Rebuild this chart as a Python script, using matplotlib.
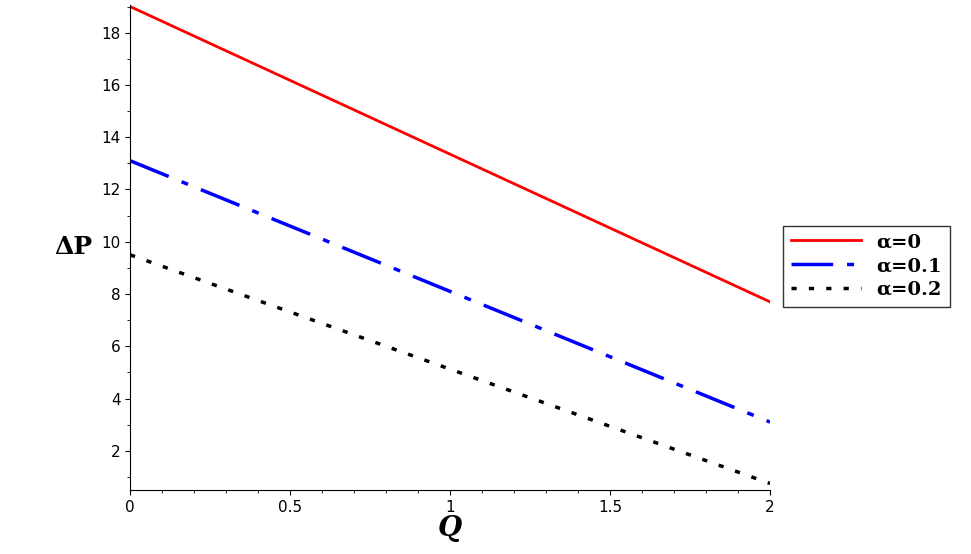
import matplotlib
matplotlib.use("Agg")
import matplotlib.pyplot as plt
from matplotlib.ticker import MultipleLocator

Q = [0.0, 2.0]
dp_a0 = [19.0, 7.7]
dp_a01 = [13.1, 3.1]
dp_a02 = [9.5, 0.75]
labels = ["α=0", "α=0.1", "α=0.2"]

fig = plt.figure(figsize=(9.71, 5.54), dpi=100)
ax = fig.add_axes([0.134, 0.1155, 0.659, 0.876])
ax.plot(Q, dp_a0, color="#ff0000", lw=2, label=labels[0])
ax.plot(Q, dp_a01, color="#0000ff", lw=2.5, dashes=(12, 4, 2, 4), label=labels[1])
ax.plot(Q, dp_a02, color="black", lw=2.5, dashes=(1.5, 3.5), label=labels[2])
ax.set_xlim(0, 2)
ax.set_ylim(0.5, 19.07)
ax.spines["top"].set_visible(False)
ax.spines["right"].set_visible(False)
ax.xaxis.set_minor_locator(MultipleLocator(0.1))
ax.yaxis.set_major_locator(MultipleLocator(2))
ax.yaxis.set_minor_locator(MultipleLocator(1))
ax.set_xticks([0, 0.5, 1, 1.5, 2])
ax.set_xticklabels(["0", "0.5", "1", "1.5", "2"])
ax.tick_params(labelsize=11)
ax.set_xlabel("Q", fontsize=20, fontweight="bold", fontstyle="italic", family="serif", labelpad=0)
ax.set_ylabel("ΔP", fontsize=18, fontweight="bold", family="serif", rotation=0, labelpad=20, va="center")
ax.legend(loc="upper left", bbox_to_anchor=(1.02, 0.545), frameon=True,
          fancybox=False, edgecolor="black", handlelength=3.6, borderaxespad=0,
          labelspacing=0.3, prop={"family": "serif", "weight": "bold", "size": 14})
fig.savefig("out.png", dpi=100)
